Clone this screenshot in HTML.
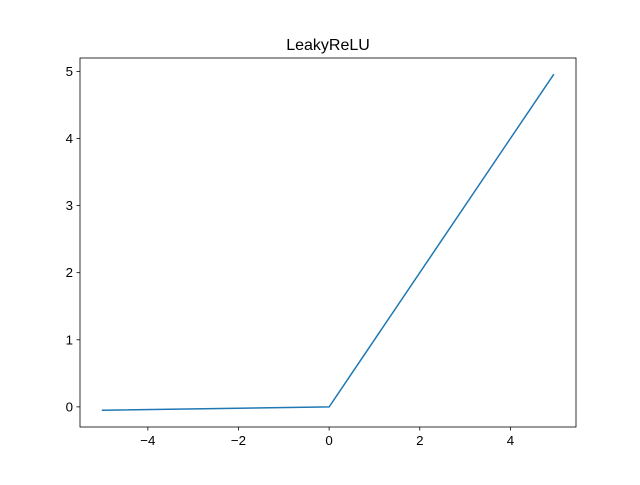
<!DOCTYPE html>
<html><head><meta charset="utf-8"><style>
body{margin:0;background:#fff}
svg text{font-family:"Liberation Sans","DejaVu Sans",sans-serif;font-size:13.3px;fill:#000}
</style></head><body>
<svg id="c" width="640" height="480" xmlns="http://www.w3.org/2000/svg"></svg>
<script>
const xs = [-5, 0, 4.95];
const ys = [-0.05, 0, 4.95];
const xTicks = [-4, -2, 0, 2, 4];
const yTicks = [0, 1, 2, 3, 4, 5];
const title = "LeakyReLU";

const L=80,R=576,T=58,B=427;
const xmin=Math.min(...xs),xmax=Math.max(...xs),ymin=Math.min(...ys),ymax=Math.max(...ys);
const xm=(xmax-xmin)*0.05, ym=(ymax-ymin)*0.05;
const x0=xmin-xm,x1=xmax+xm,y0=ymin-ym,y1=ymax+ym;
const sx=v=>L+(v-x0)/(x1-x0)*(R-L);
const sy=v=>B-(v-y0)/(y1-y0)*(B-T);
const svg=document.getElementById('c');
const NS='http://www.w3.org/2000/svg';
function mk(tag,attrs){const e=document.createElementNS(NS,tag);for(const k in attrs)e.setAttribute(k,attrs[k]);svg.appendChild(e);return e;}

const line=mk('polyline',{points:xs.map((x,i)=>sx(x)+','+sy(ys[i])).join(' '),fill:'none',stroke:'#1f77b4','stroke-width':1.5,'stroke-linecap':'square'});



const frame=mk('rect',{x:L,y:T,width:R-L,height:B-T,fill:'none',stroke:'#000','stroke-width':0.8});



xTicks.forEach(t=>{
  const x=sx(t);
  const tk=mk('line',{x1:x,x2:x,y1:B,y2:B+3.5,stroke:'#000','stroke-width':0.8});
  
  
  const tx=mk('text',{x:x,y:B+18,'text-anchor':'middle'});
  tx.textContent=(t<0?'\u2212':'')+Math.abs(t);
  
  
});
yTicks.forEach(t=>{
  const y=sy(t);
  const tk=mk('line',{x1:L-3.5,x2:L,y1:y,y2:y,stroke:'#000','stroke-width':0.8});
  
  
  const tx=mk('text',{x:L-7,y:y+4.5,'text-anchor':'end'});
  tx.textContent=t;
  
  
});
const tt=mk('text',{x:(L+R)/2,y:T-8,'text-anchor':'middle'});
tt.style.fontSize='16px';
tt.textContent=title;


</script>
</body></html>
